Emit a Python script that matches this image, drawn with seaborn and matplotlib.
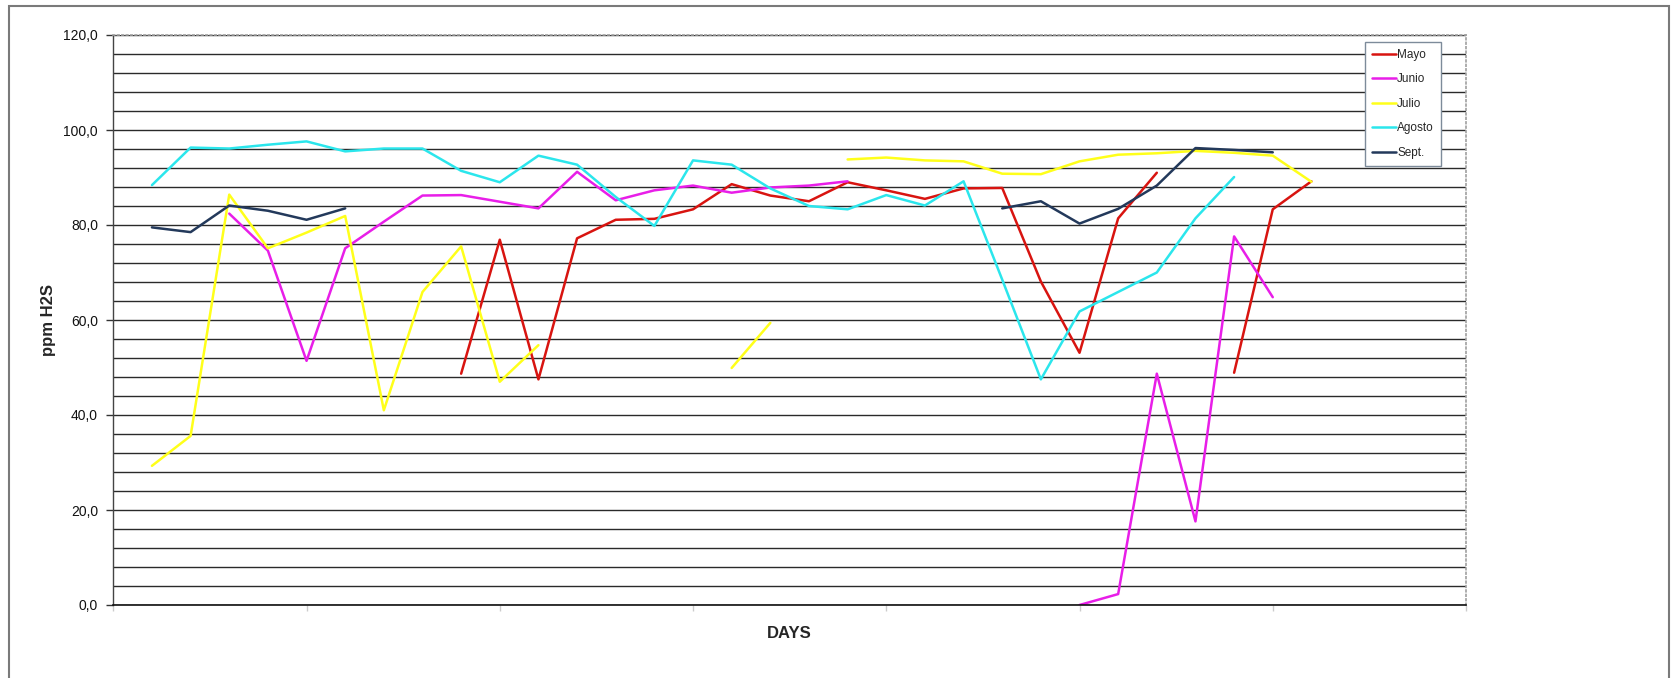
import numpy as np
import pandas as pd
import matplotlib
matplotlib.use("Agg")
import matplotlib.pyplot as plt
from matplotlib import font_manager
from matplotlib.patches import Rectangle
from matplotlib.ticker import FuncFormatter, MultipleLocator
import seaborn as sns

nan = np.nan

# Daily H2S readings (ppm), one list per month, day 1..31
days = list(range(1, 32))
mayo = [nan] * 8 + [48.7, 76.9, 47.5, 77.2, 81.1, 81.3, 83.3, 88.6, 86.2, 85.0,
                    89.0, 87.3, 85.5, 87.7, 87.8, 68.1, 53.1, 81.4, 91.0] + [nan] + [48.9, 83.3, 89.2]
junio = [nan] * 2 + [82.4, 74.6, 51.4, 75.1, 80.7, 86.2, 86.3, 84.9, 83.5, 91.2, 85.2,
                     87.3, 88.3, 86.8, 87.9, 88.3, 89.2] + [nan] * 5 + [0.0, 2.3, 48.7, 17.6, 77.6, 64.8] + [nan]
julio = [29.3, 35.6, 86.4, 75.1, 78.4, 81.9, 41.0, 65.9, 75.5, 47.0, 54.7] + [nan] * 4 + \
        [49.9, 59.4] + [nan] + [93.8, 94.2, 93.6, 93.4, 90.8, 90.7, 93.4, 94.8, 95.1, 95.6, 95.2, 94.6, 89.1]
agosto = [88.4, 96.3, 96.1, 96.9, 97.6, 95.5, 96.1, 96.1, 91.4, 89.0, 94.6, 92.7, 85.9, 79.8, 93.6,
          92.7, 87.7, 84.0, 83.3, 86.3, 84.1, 89.2, 68.5, 47.5, 61.8, 65.9, 70.0, 81.4, 90.1] + [nan] * 2
sept = [79.5, 78.5, 84.1, 83.0, 81.1, 83.5] + [nan] * 16 + [83.5, 85.0, 80.3, 83.4, 88.3, 96.2, 95.8, 95.3] + [nan]

months = ["Mayo", "Junio", "Julio", "Agosto", "Sept."]
series = [mayo, junio, julio, agosto, sept]
colors = ["#D81410", "#E81EE8", "#FFFF1A", "#2BE6EC", "#23395B"]

# Long-form table; each unbroken run of readings gets its own unit id so gaps stay open
rows = []
for name, vals in zip(months, series):
    seg = 0
    prev_ok = False
    for d, v in zip(days, vals):
        ok = not np.isnan(v)
        if ok and not prev_ok:
            seg += 1
        if ok:
            rows.append({"day": d, "ppm": v, "mes": name, "seg": seg})
        prev_ok = ok
df = pd.DataFrame(rows)

sns.set_style("white")
avail = {f.name for f in font_manager.fontManager.ttflist}
base_font = "Liberation Sans" if "Liberation Sans" in avail else "DejaVu Sans"
narrow_font = "Liberation Sans Narrow" if "Liberation Sans Narrow" in avail else base_font
plt.rcParams["font.family"] = [base_font, "DejaVu Sans"]

W, H = 1672, 678
fig = plt.figure(figsize=(W / 100, H / 100), dpi=100)
x0, x1, y0, y1 = 113.3, 1466.0, 35.0, 605.0
ax = fig.add_axes([x0 / W, 1 - y1 / H, (x1 - x0) / W, (y1 - y0) / H])

sns.lineplot(data=df, x="day", y="ppm", hue="mes", units="seg", estimator=None,
             hue_order=months, palette=dict(zip(months, colors)),
             linewidth=1.8, ax=ax, legend=True)

ax.set_xlim(0, 35)
ax.set_ylim(0, 120)
ax.set_xticks(range(0, 36, 5))
ax.set_xticklabels([])
ax.yaxis.set_major_locator(MultipleLocator(20))
ax.yaxis.set_minor_locator(MultipleLocator(4))
ax.yaxis.set_major_formatter(FuncFormatter(lambda v, p: f"{v:.1f}".replace(".", ",")))
ax.tick_params(axis="y", which="major", length=5, width=1, color="#333333",
               labelsize=10, labelcolor="#111111", pad=6, direction="out", left=True)
ax.tick_params(axis="y", which="minor", length=0)
ax.tick_params(axis="x", which="major", length=4, width=1, color="#cccccc", direction="out", bottom=True)
ax.grid(True, axis="y", which="both", color="#2a2a2a", linewidth=1.0)
ax.grid(False, axis="x")
ax.set_axisbelow(True)

for side in ("top", "right"):
    ax.spines[side].set_color("#a0a0a0")
    ax.spines[side].set_linestyle(":")
    ax.spines[side].set_linewidth(1.2)
ax.spines["left"].set_color("#444444")
ax.spines["left"].set_linewidth(1.0)
ax.spines["bottom"].set_color("#111111")
ax.spines["bottom"].set_linewidth(1.2)

ax.set_xlabel("DAYS", fontsize=12, fontweight="bold", va="center")
ax.xaxis.set_label_coords(0.5, -(633 - y1) / (y1 - y0))
ax.set_ylabel("ppm H2S", fontsize=12, fontweight="bold", va="center")
ax.yaxis.set_label_coords((48 - x0) / (x1 - x0), 0.5)

handles, labels = ax.get_legend_handles_labels()
leg = ax.legend(handles, labels, loc="upper right",
                bbox_to_anchor=((1441 - x0) / (x1 - x0), (y1 - 42) / (y1 - y0)),
                borderaxespad=0, fancybox=False, framealpha=1, edgecolor="#7d8b9a",
                prop={"family": narrow_font, "size": 8.5}, handlelength=2.0,
                handletextpad=0.1, labelspacing=1.05, borderpad=0.6)
leg.get_frame().set_linewidth(1.0)
for line in leg.get_lines():
    line.set_linewidth(1.8)

# outer chart frame, open at the lower edge
fig.patches.append(Rectangle((9 / W, -0.1), (1669 - 9) / W, 0.1 + 1 - 6 / H,
                             transform=fig.transFigure, fill=False,
                             edgecolor="#7a7a7a", linewidth=1.5))

fig.savefig("out.png", dpi=100)
